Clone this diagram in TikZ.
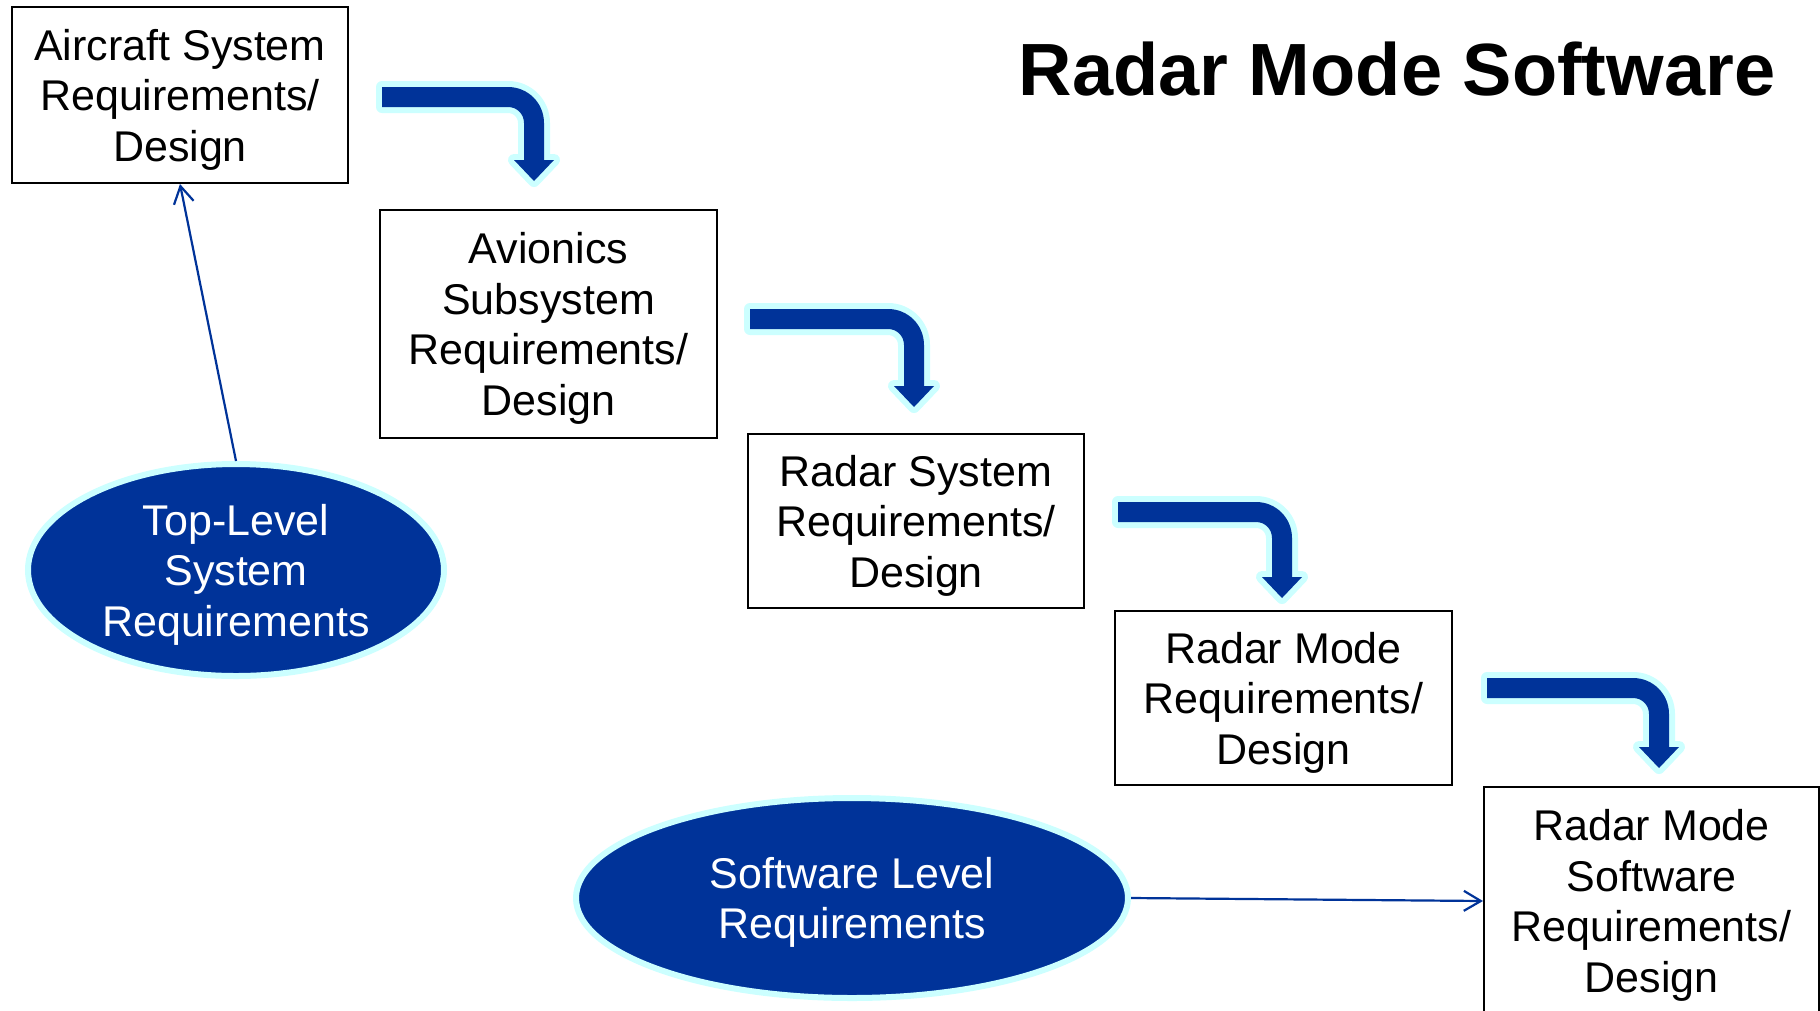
\documentclass[tikz,border=0pt]{standalone}
\usepackage{fontspec}
\setmainfont{Liberation Sans}
\usetikzlibrary{arrows.meta,shapes.geometric}

\definecolor{navy}{RGB}{0,51,153}
\definecolor{glow}{RGB}{204,255,255}

\newcommand\boxfont{\fontsize{43}{50.5}\selectfont}
\newcommand\titlefont{\fontsize{74}{80}\selectfont\bfseries}
% strut that balances the first line's height against the last line's descender
\newcommand\capstrut{\rule{0pt}{0.93em}}

% bent block arrow: start x, top of bar, x of the drop, y of the tip
\newcommand\bentflow[4]{%
  \path[flowarrow] (#1,#2) -- ({#3-26},#2)
    .. controls ({#3-6},#2) and ({#3+10},{#2+16}) .. ({#3+10},{#2+36})
    -- ({#3+10},{#4-21}) -- ({#3+20},{#4-21}) -- (#3,#4)
    -- ({#3-20},{#4-21}) -- ({#3-10},{#4-21}) -- ({#3-10},{#2+36})
    .. controls ({#3-10},{#2+27}) and ({#3-17},{#2+20}) .. ({#3-26},{#2+20})
    -- (#1,{#2+20}) -- cycle;}

\begin{document}
\begin{tikzpicture}[x=1pt,y=-1pt,
  reqbox/.style={draw=black, line width=2pt, fill=white, align=center,
    inner sep=0pt, font=\boxfont, minimum width=336pt},
  reqoval/.style={ellipse, fill=navy, draw=glow, line width=6pt, text=white,
    align=center, font=\boxfont, inner sep=0pt},
  tracelink/.style={draw=navy, line width=2.2pt,
    -{Straight Barb[length=17pt,width=20pt,line width=2.2pt]}},
  flowarrow/.style={fill=navy, preaction={draw=glow, line width=12pt, line join=round}},
]
\useasboundingbox (0,0) rectangle (1820,1010);
\clip (0,0) rectangle (1820,1010);
\fill[white] (0,0) rectangle (1820,1010);

% title
\node[font=\titlefont, anchor=base] (title) at (1397,95) {Radar Mode Software};

% requirement / design levels
\node[reqbox, minimum height=176pt] (aircraft) at (180,95)
  {\capstrut Aircraft System\\Requirements/\\Design};
\node[reqbox, minimum width=337pt, minimum height=228pt] (avionics) at (548.5,324)
  {\capstrut Avionics\\Subsystem\\Requirements/\\Design};
\node[reqbox, minimum height=174pt] (radarsys) at (916,521)
  {\capstrut Radar System\\Requirements/\\Design};
\node[reqbox, minimum width=337pt, minimum height=174pt] (radarmode) at (1283.5,698)
  {\capstrut Radar Mode\\Requirements/\\Design};
\node[reqbox, minimum width=335pt, minimum height=228pt] (radarsw) at (1651.5,901)
  {\capstrut Radar Mode\\Software\\Requirements/\\Design};

% flow-down arrows between levels
\bentflow{382}{87}{534}{181}
\bentflow{750}{309}{914}{407}
\bentflow{1118}{502}{1282}{598}
\bentflow{1487}{678}{1659}{768}

% requirement ovals
\node[reqoval, minimum width=416pt, minimum height=204pt] (toplevel) at (236,570)
  {\capstrut Top-Level\\System\\Requirements};
\node[reqoval, minimum width=552pt, minimum height=200pt] (swlevel) at (852,898)
  {\capstrut Software Level\\Requirements};

% trace links
\draw[tracelink] (toplevel.north) -- (aircraft.south);
\draw[tracelink] (swlevel.east) -- (radarsw.west);
\end{tikzpicture}
\end{document}
